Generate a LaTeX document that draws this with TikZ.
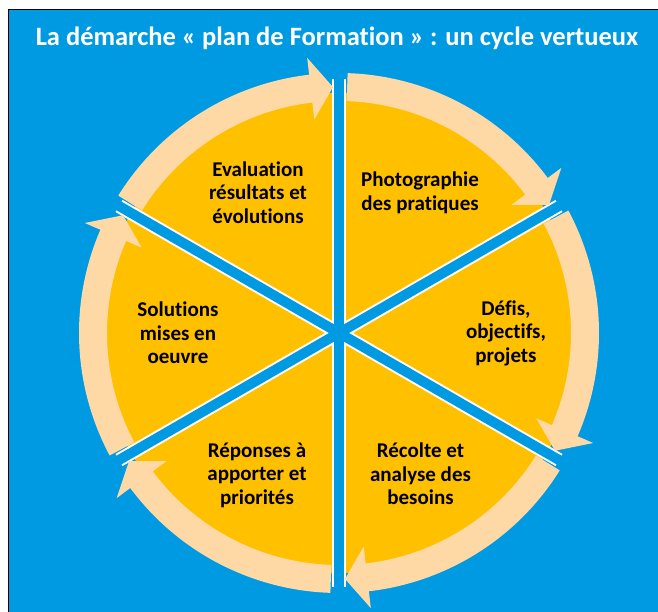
\documentclass[tikz,border=0pt]{standalone}
\usepackage{fontspec}
\setmainfont{Carlito}[Ligatures=NoCommon]
\definecolor{sky}{HTML}{009AE3}
\definecolor{gold}{HTML}{FFC000}
\definecolor{peach}{HTML}{FFD9A5}
\tikzset{
  heading/.style={anchor=base,text=white,font=\fontsize{26.5}{30}\selectfont\bfseries},
  phase/.style={align=center,font=\fontsize{21}{23.5}\selectfont\bfseries},
  spokeedge/.style={white,line width=14pt},
  spokecore/.style={sky,line width=10pt},
  ringarrow/.style={fill=peach}
}

\begin{document}
\begin{tikzpicture}[x=1pt,y=1pt]
\useasboundingbox (0,0) rectangle (658,612);
\draw [fill=sky,line width=1pt] (8.5,-5) rectangle (665,602.5);
\node [heading] (title) at (337,566)
    {La démarche « plan de Formation » : un cycle vertueux};

\coordinate (hub) at (339,279);
\begin{scope}[shift=(hub)]
% disc and spokes
\fill [gold] (0,0) circle [radius=240pt];
\draw [spokeedge] (0,0) -- (90:254);
\draw [spokeedge] (0,0) -- (30:254);
\draw [spokeedge] (0,0) -- (-30:254);
\draw [spokeedge] (0,0) -- (-90:254);
\draw [spokeedge] (0,0) -- (-150:254);
\draw [spokeedge] (0,0) -- (150:254);
\draw [spokecore] (0,0) -- (90:262);
\draw [spokecore] (0,0) -- (30:262);
\draw [spokecore] (0,0) -- (-30:262);
\draw [spokecore] (0,0) -- (-90:262);
\draw [spokecore] (0,0) -- (-150:262);
\draw [spokecore] (0,0) -- (150:262);

% ring of arrows, clockwise
\fill [ringarrow] (148.1:260) arc [start angle=148.1,end angle=96.6,radius=260pt]
    -- (96.6:277) -- (91.4:246) -- (96.6:215) -- (96.6:232)
    arc [start angle=96.6,end angle=148.1,radius=232pt] -- cycle;
\fill [ringarrow] (88.1:260) arc [start angle=88.1,end angle=36.6,radius=260pt]
    -- (36.6:277) -- (31.4:246) -- (36.6:215) -- (36.6:232)
    arc [start angle=36.6,end angle=88.1,radius=232pt] -- cycle;
\fill [ringarrow] (28.1:260) arc [start angle=28.1,end angle=-23.4,radius=260pt]
    -- (-23.4:277) -- (-28.6:246) -- (-23.4:215) -- (-23.4:232)
    arc [start angle=-23.4,end angle=28.1,radius=232pt] -- cycle;
\fill [ringarrow] (-31.9:260) arc [start angle=-31.9,end angle=-83.4,radius=260pt]
    -- (-83.4:277) -- (-88.6:246) -- (-83.4:215) -- (-83.4:232)
    arc [start angle=-83.4,end angle=-31.9,radius=232pt] -- cycle;
\fill [ringarrow] (-91.9:260) arc [start angle=-91.9,end angle=-143.4,radius=260pt]
    -- (-143.4:277) -- (-148.6:246) -- (-143.4:215) -- (-143.4:232)
    arc [start angle=-143.4,end angle=-91.9,radius=232pt] -- cycle;
\fill [ringarrow] (208.1:260) arc [start angle=208.1,end angle=156.6,radius=260pt]
    -- (156.6:277) -- (151.4:246) -- (156.6:215) -- (156.6:232)
    arc [start angle=156.6,end angle=208.1,radius=232pt] -- cycle;

% phases
\node [phase] (evaluation) at
    (xyz polar cs:angle=120,radius=162) {Evaluation\\résultats et\\évolutions};
\node [phase] (photo)      at
    (xyz polar cs:angle=60,radius=162)  {Photographie\\des pratiques};
\node [phase] (defis)      at
    (xyz polar cs:angle=0,radius=167)   {Défis,\\objectifs,\\projets};
\node [phase] (recolte)    at
    (xyz polar cs:angle=-60,radius=163) {Récolte et\\analyse des\\besoins};
\node [phase] (reponses)   at
    (xyz polar cs:angle=240,radius=164) {Réponses à\\apporter et\\priorités};
\node [phase] (solutions)  at
    (xyz polar cs:angle=180,radius=161) {Solutions\\mises en\\oeuvre};
\end{scope}
\end{tikzpicture}
\end{document}
